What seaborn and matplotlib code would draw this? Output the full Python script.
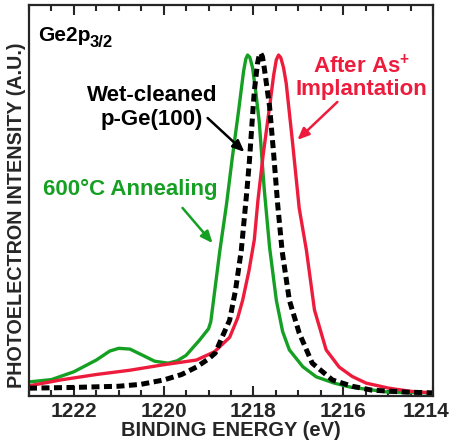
import matplotlib
matplotlib.use("Agg")
import matplotlib.pyplot as plt
import matplotlib.transforms as mtransforms
import seaborn as sns
import pandas as pd
from matplotlib.ticker import MultipleLocator

# ---- data (binding energy eV, normalized intensity) ----
green_e = [1223.0, 1222.5, 1222.0, 1221.5, 1221.2, 1221.0, 1220.75, 1220.5, 1220.2, 1219.9,
           1219.7, 1219.5, 1219.2, 1219.0, 1218.95, 1218.85, 1218.75, 1218.6, 1218.47, 1218.33,
           1218.22, 1218.17, 1218.13, 1218.08, 1218.02, 1217.95, 1217.87, 1217.76, 1217.64,
           1217.49, 1217.35, 1217.2, 1216.9, 1216.6, 1216.2, 1215.85, 1215.0, 1214.0]
green_i = [0.036, 0.042, 0.062, 0.092, 0.115, 0.122, 0.120, 0.106, 0.089, 0.084,
           0.090, 0.104, 0.143, 0.172, 0.19, 0.28, 0.37, 0.49, 0.61, 0.73,
           0.83, 0.862, 0.872, 0.866, 0.84, 0.78, 0.70, 0.53, 0.38,
           0.245, 0.165, 0.118, 0.075, 0.049, 0.033, 0.023, 0.010, 0.008]

black_e = [1223.0, 1222.0, 1221.0, 1220.5, 1220.0, 1219.6, 1219.27, 1219.0, 1218.85, 1218.7,
           1218.53, 1218.4, 1218.27, 1218.15, 1218.09, 1218.03, 1217.98, 1217.91, 1217.87,
           1217.84, 1217.8, 1217.76, 1217.64, 1217.55, 1217.46, 1217.36, 1217.2, 1216.98,
           1216.69, 1216.24, 1215.8, 1215.36, 1214.6, 1214.0]
black_i = [0.020, 0.022, 0.025, 0.030, 0.041, 0.055, 0.074, 0.095, 0.110, 0.150,
           0.194, 0.27, 0.373, 0.52, 0.60, 0.70, 0.78, 0.85, 0.872,
           0.877, 0.868, 0.84, 0.74, 0.62, 0.49, 0.37, 0.245, 0.161,
           0.084, 0.041, 0.025, 0.015, 0.010, 0.008]

red_e = [1223.0, 1222.3, 1221.5, 1220.75, 1220.0, 1219.27, 1218.87, 1218.53, 1218.35, 1218.24,
         1218.1, 1217.98, 1217.9, 1217.78, 1217.64, 1217.55, 1217.49, 1217.44, 1217.39,
         1217.33, 1217.27, 1217.13, 1216.98, 1216.82, 1216.64, 1216.38, 1216.09, 1215.8,
         1215.49, 1214.98, 1214.5, 1214.0]
red_i = [0.026, 0.041, 0.055, 0.066, 0.080, 0.092, 0.113, 0.150, 0.20, 0.245,
         0.32, 0.40, 0.50, 0.62, 0.74, 0.82, 0.86, 0.872, 0.865,
         0.84, 0.80, 0.65, 0.48, 0.373, 0.22, 0.118, 0.074, 0.050,
         0.033, 0.020, 0.012, 0.008]

x_ticks = [1222, 1220, 1218, 1216, 1214]

GREEN = "#15a023"
RED = "#ee1c3c"
BLACK = "#000000"

sns.set_style("ticks")
plt.rcParams["font.family"] = ["Liberation Sans", "DejaVu Sans"]
plt.rcParams["font.weight"] = "bold"
plt.rcParams["mathtext.fontset"] = "custom"
plt.rcParams["mathtext.rm"] = "Liberation Sans:bold"
plt.rcParams["mathtext.bf"] = "Liberation Sans:bold"
plt.rcParams["mathtext.it"] = "Liberation Sans:bold"

fig = plt.figure(figsize=(4.5, 4.41), dpi=100)
ax = fig.add_axes([0.0644, 0.102, 0.8978, 0.8867])

dg = pd.DataFrame({"E": green_e, "I": green_i})
dk = pd.DataFrame({"E": black_e, "I": black_i})
dr = pd.DataFrame({"E": red_e, "I": red_i})

sns.lineplot(data=dg, x="E", y="I", ax=ax, color=GREEN, lw=2.4, sort=False)
sns.lineplot(data=dr, x="E", y="I", ax=ax, color=RED, lw=2.4, sort=False)
sns.lineplot(data=dk, x="E", y="I", ax=ax, color=BLACK, lw=3.6, sort=False,
             dashes=False)
ax.lines[-1].set_dashes((1.6, 0.9))

ax.set_xlim(1223, 1214)
ax.set_ylim(0, 1)
ax.set_xticks(x_ticks)
ax.xaxis.set_minor_locator(MultipleLocator(0.5))
ax.set_yticks([])
ax.tick_params(axis="x", which="both", direction="in", top=True, bottom=True,
               width=1.5, labelsize=15, pad=4)
ax.tick_params(axis="x", which="major", length=7)
ax.tick_params(axis="x", which="minor", length=4)
labels = ax.get_xticklabels()
for lab in labels:
    lab.set_fontweight("bold")
# last label shifted inward to stay inside the canvas (as in the reference)
shift = mtransforms.ScaledTranslation(-7 / 100, 0, fig.dpi_scale_trans)
labels[-1].set_transform(labels[-1].get_transform() + shift)
for s in ax.spines.values():
    s.set_linewidth(1.6)
    s.set_visible(True)

ax.set_xlabel("BINDING ENERGY (eV)", fontsize=14.5, fontweight="bold", labelpad=0)
ax.set_ylabel("PHOTOELECTRON INTENSITY (A.U.)", fontsize=14.2, fontweight="bold")
ax.yaxis.set_label_coords(-0.008, 0.463)

ax.text(1222.8, 0.908, "Ge2p", fontsize=15, fontweight="bold",
        ha="left", va="baseline", color=BLACK)
ax.text(1221.64, 0.893, "3/2", fontsize=12, fontweight="bold",
        ha="left", va="baseline", color=BLACK)

ax.text(1220.26, 0.738, "Wet-cleaned\np-Ge(100)", fontsize=16, fontweight="bold",
        ha="center", va="center", multialignment="center", color=BLACK, linespacing=1.2)
ax.annotate("", xy=(1218.2, 0.624), xytext=(1219.02, 0.711),
            arrowprops=dict(arrowstyle="-|>,head_length=0.7,head_width=0.3",
                            color=BLACK, lw=1.8, shrinkA=0, shrinkB=0))

ax.text(1215.6, 0.815, "After As$^{+}$\nImplantation", fontsize=16, fontweight="bold",
        ha="center", va="center", multialignment="center", color=RED, linespacing=1.05)
ax.annotate("", xy=(1217.02, 0.655), xytext=(1216.13, 0.752),
            arrowprops=dict(arrowstyle="-|>,head_length=0.7,head_width=0.3",
                            color=RED, lw=1.8, shrinkA=0, shrinkB=0))

ax.text(1220.74, 0.527, "600°C Annealing", fontsize=16, fontweight="bold",
        ha="center", va="center", color=GREEN)
ax.annotate("", xy=(1218.91, 0.391), xytext=(1219.58, 0.481),
            arrowprops=dict(arrowstyle="-|>,head_length=0.7,head_width=0.3",
                            color=GREEN, lw=1.8, shrinkA=0, shrinkB=0))

fig.savefig("out.png", dpi=100)
